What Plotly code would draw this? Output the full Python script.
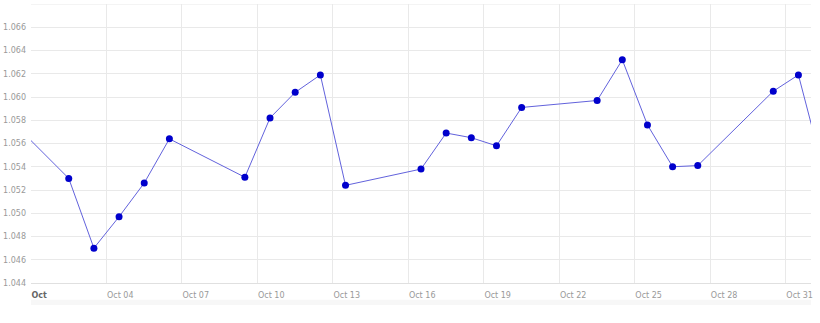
import plotly.graph_objects as go
import pandas as pd

# Data (daily quotes, sampled at midday)
dates = ["2023-09-29", "2023-10-02", "2023-10-03", "2023-10-04", "2023-10-05", "2023-10-06",
         "2023-10-09", "2023-10-10", "2023-10-11", "2023-10-12", "2023-10-13",
         "2023-10-16", "2023-10-17", "2023-10-18", "2023-10-19", "2023-10-20",
         "2023-10-23", "2023-10-24", "2023-10-25", "2023-10-26", "2023-10-27",
         "2023-10-30", "2023-10-31", "2023-11-01"]
values = [1.0595, 1.0530, 1.0470, 1.0497, 1.0526, 1.0564,
          1.0531, 1.0582, 1.0604, 1.0619, 1.0524,
          1.0538, 1.0569, 1.0565, 1.0558, 1.0591,
          1.0597, 1.0632, 1.0576, 1.0540, 1.0541,
          1.0605, 1.0619, 1.0536]

tick_dates = ["2023-10-01", "2023-10-04", "2023-10-07", "2023-10-10", "2023-10-13", "2023-10-16",
              "2023-10-19", "2023-10-22", "2023-10-25", "2023-10-28", "2023-10-31"]
tick_labels = ["<b><span style='color:#666'>Oct</span></b>", "Oct 04", "Oct 07", "Oct 10", "Oct 13",
               "Oct 16", "Oct 19", "Oct 22", "Oct 25", "Oct 28", "Oct 31"]
y_ticks = [1.044, 1.046, 1.048, 1.050, 1.052, 1.054, 1.056, 1.058, 1.060, 1.062, 1.064, 1.066]

x = pd.to_datetime(dates) + pd.Timedelta(hours=12)

fig = go.Figure()
fig.add_trace(go.Scatter(
    x=x, y=values, mode="lines+markers",
    line=dict(color="#6262dc", width=1),
    marker=dict(color="#0000cc", size=7),
    showlegend=False, cliponaxis=True,
))

grid = "#e9e9e9"
fig.update_layout(
    width=820, height=323,
    margin=dict(l=31, r=9, t=4, b=40),
    paper_bgcolor="white", plot_bgcolor="white",
    font=dict(family="DejaVu Sans", size=8, color="#999"),
    xaxis=dict(
        range=["2023-10-01", "2023-11-01"],
        tickvals=pd.to_datetime(tick_dates), ticktext=tick_labels,
        ticklabelposition="outside right",
        ticklabelstandoff=4,
        showgrid=True, gridcolor=grid, gridwidth=1,
        showline=True, linecolor="#e0e0e0", linewidth=1,
        ticks="", zeroline=False,
        tickfont=dict(size=8, color="#999"),
    ),
    yaxis=dict(
        range=[1.044, 1.068],
        tickvals=y_ticks, ticktext=[f"{v:.3f}" for v in y_ticks],
        showgrid=True, gridcolor=grid, gridwidth=1,
        ticks="", zeroline=False, showline=False,
        tickfont=dict(size=8, color="#999"),
        ticklabelstandoff=4,
    ),
    shapes=[
        dict(type="line", xref="paper", yref="y", x0=0, x1=1, y0=1.068, y1=1.068,
             line=dict(color=grid, width=1), layer="below"),
        dict(type="rect", xref="paper", yref="paper", x0=0, x1=1, y0=-0.079, y1=-0.060,
             fillcolor="#f7f7f7", line=dict(width=0), layer="below"),
    ],
)

fig.write_html("out.html")
